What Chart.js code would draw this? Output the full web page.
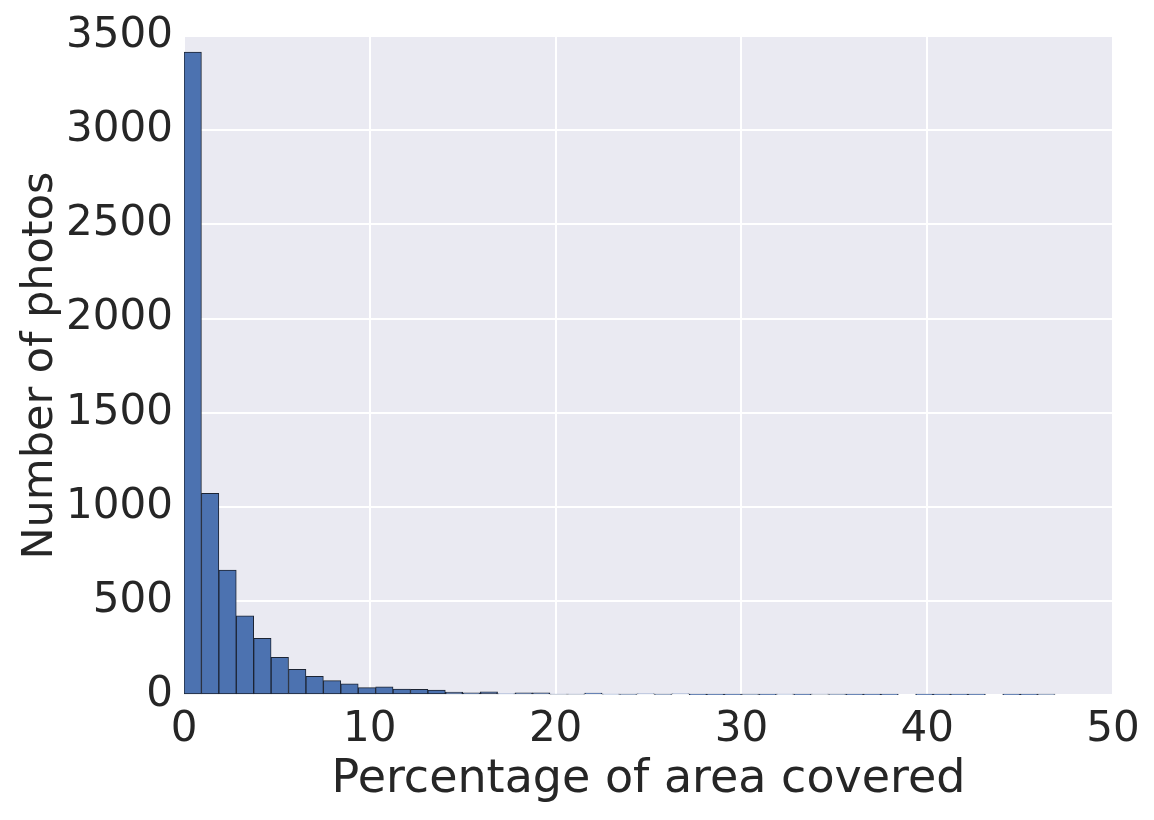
<!DOCTYPE html>
<html>
<head>
<meta charset="utf-8">
<script src="https://cdn.jsdelivr.net/npm/chart.js@4/dist/chart.umd.min.js"></script>
<style>
  html, body { margin: 0; padding: 0; background: #fff; }
  #wrap { width: 1154px; height: 820px; }
</style>
</head>
<body>
<div id="wrap"><canvas id="hist" width="1154" height="820"></canvas></div>
<script>
// histogram: 50 equal bins from 0 to ~46.9 % of area covered
const binStart = 0
const binWidth = 0.9376
const photoCounts = [3415, 1071, 664, 421, 301, 200, 136, 99, 76, 59,
    39, 43, 32, 30, 26, 15, 11, 17, 6, 11,
    11, 5, 5, 10, 4, 3, 6, 3, 6, 2,
    2, 2, 3, 1, 4, 2, 5, 3, 1, 1,
    1, 0, 1, 1, 1, 1, 0, 1, 1, 3]
const xTicks = [0, 10, 20, 30, 40, 50]
const yTicks = [0, 500, 1000, 1500, 2000, 2500, 3000, 3500]

const textColor = '#262626'
const barColor = '#4c72b0'
const panelColor = '#eaeaf2'

const points = photoCounts.map((c, i) => ({ x: binStart + (i + 0.5) * binWidth, y: c }))

// grey panel behind the plot like seaborn darkgrid
const panelBg = {
    id: 'panelBg',
    beforeDraw: function (chart) {
        const a = chart.chartArea
        const ctx = chart.ctx
        ctx.save()
        ctx.fillStyle = panelColor
        ctx.fillRect(a.left, a.top, a.right - a.left, a.bottom - a.top)
        ctx.restore()
    }
}

new Chart(document.getElementById('hist').getContext('2d'), {
    type: 'bar',
    data: {
        datasets: [{
            data: points,
            backgroundColor: barColor,
            borderColor: '#1c2433',
            borderWidth: 1,
            borderSkipped: false,
            barPercentage: 1,
            categoryPercentage: 1,
            grouped: false
        }]
    },
    options: {
        responsive: false,
        animation: false,
        layout: { padding: { top: 36, right: 41, left: 0, bottom: 0 } },
        plugins: { legend: { display: false }, tooltip: { enabled: false } },
        scales: {
            x: {
                type: 'linear',
                min: xTicks[0],
                max: xTicks[xTicks.length - 1],
                offset: false,
                afterBuildTicks: s => { s.ticks = xTicks.map(v => ({ value: v })) },
                afterFit: s => { s.height = 125 },
                border: { display: false },
                grid: { color: '#ffffff', lineWidth: 2, drawTicks: false, offset: false },
                ticks: { color: textColor, padding: 10, maxRotation: 0,
                    callback: v => String(v),
                    font: { family: 'DejaVu Sans', size: 42 } },
                title: { display: true, text: 'Percentage of area covered', color: textColor,
                    padding: { top: 4, bottom: 12 },
                    font: { family: 'DejaVu Sans', size: 46 } }
            },
            y: {
                min: yTicks[0],
                max: yTicks[yTicks.length - 1],
                afterBuildTicks: s => { s.ticks = yTicks.map(v => ({ value: v })) },
                afterFit: s => { s.width = 184 },
                border: { display: false },
                grid: { color: '#ffffff', lineWidth: 2, drawTicks: false },
                ticks: { color: textColor, padding: 11,
                    callback: v => String(v),
                    font: { family: 'DejaVu Sans', size: 42 } },
                title: { display: true, text: 'Number of photos', color: textColor,
                    padding: { top: 15, bottom: 4 },
                    font: { family: 'DejaVu Sans', size: 43 } }
            }
        }
    },
    plugins: [panelBg]
})
</script>
</body>
</html>
